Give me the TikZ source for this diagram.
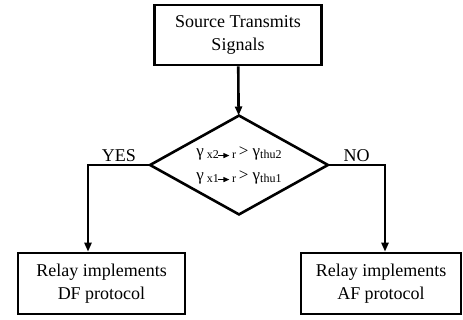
\documentclass[tikz,border=0pt]{standalone}
\usepackage{fontspec}
\setmainfont{Liberation Serif}
\usetikzlibrary{shapes.geometric, arrows.meta, positioning}
\newcommand{\lowsub}[1]{\raisebox{-2.5pt}{\fontsize{12}{12}\selectfont #1}}
\newcommand{\maparrow}{\tikz[baseline=-3pt]\draw[line width=1.2pt,-{Triangle[width=5pt,length=6pt]}] (0,0) -- (11pt,0);}
\tikzset{
	flowbox/.style={rectangle, draw=black, align=center, inner sep=0pt,
		font=\fontsize{18}{23}\selectfont},
	flowarrow/.style={-{Triangle[width=7pt,length=9pt]}},
}

\begin{document}
\begin{tikzpicture}[x=1pt,y=-1pt,line width=2.6pt,
		decide/.style={diamond, draw=black, inner sep=0pt, aspect=1.8,
			minimum width=178pt, minimum height=99pt, align=center,
			font=\fontsize{17}{24}\selectfont}]
		\useasboundingbox (0,0) rectangle (463,320);
		\node[flowbox, minimum width=167pt, minimum height=60pt] (src) at (238,35) {Source Transmits\\Signals};
		\node[decide] (dec) at (239,165) {γ\,\lowsub{x2\kern-1pt\maparrow\,r}\,> γ\lowsub{thu2}\\γ\,\lowsub{x1\kern-1pt\maparrow\,r}\,> γ\lowsub{thu1}};
		\node[flowbox, minimum width=167pt, minimum height=61pt] (df) at (101.5,283.5) {Relay implements\\DF protocol};
		\node[flowbox, minimum width=160pt, minimum height=61pt] (af) at (381,283.5) {Relay implements\\AF protocol};
		% connectors
		\draw[flowarrow] (src) -- (dec);
		\draw[flowarrow] (dec.west) -| node[pos=0.25, above=-1pt, font=\fontsize{18}{20}\selectfont] {YES} ([xshift=-13.5pt]df.north);
		\draw[flowarrow] (dec.east) -| node[pos=0.25, above=-1pt, font=\fontsize{18}{20}\selectfont] {NO} ([xshift=4pt]af.north);
	\end{tikzpicture}
\end{document}
